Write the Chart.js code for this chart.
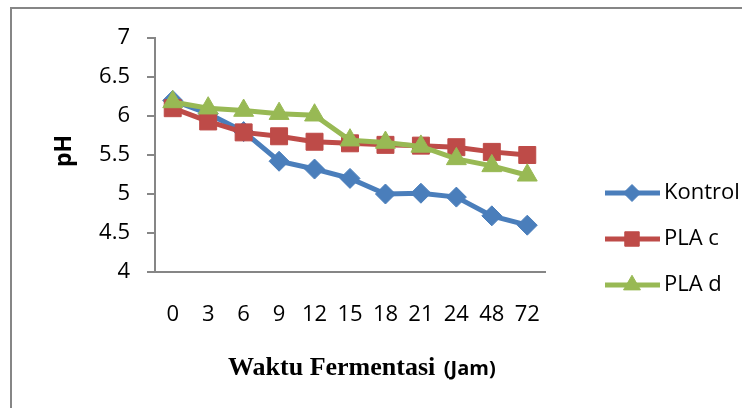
<!DOCTYPE html>
<html>
<head>
<meta charset="utf-8">
<script src="https://cdn.jsdelivr.net/npm/chart.js@4"></script>
<style>
  html, body { margin: 0; padding: 0; background: #fff; }
  #wrap { width: 742px; height: 408px; }
</style>
</head>
<body>
<div id="wrap"><canvas id="phChart" width="742" height="408"></canvas></div>
<script>
const hours = ['0', '3', '6', '9', '12', '15', '18', '21', '24', '48', '72'];
const kontrol = [6.2, 6.03, 5.8, 5.42, 5.32, 5.2, 5.0, 5.01, 4.96, 4.72, 4.6];
const plaC = [6.1, 5.93, 5.79, 5.74, 5.67, 5.65, 5.63, 5.62, 5.6, 5.54, 5.5];
const plaD = [6.18, 6.1, 6.07, 6.03, 6.01, 5.69, 5.66, 5.61, 5.45, 5.36, 5.24];
const seriesNames = ['Kontrol', 'PLA c', 'PLA d'];

const axisGray = '#868686';
const tickFont = { family: 'Open Sans', size: 22 };

// frame, axis titles and the legend on the right
const decorPlugin = {
  id: 'decor',
  afterDraw(chart) {
    const ctx = chart.ctx;
    ctx.save();
    ctx.strokeStyle = axisGray;
    ctx.lineWidth = 2;
    ctx.beginPath();
    ctx.moveTo(11, 410);
    ctx.lineTo(11, 8);
    ctx.lineTo(742, 8);
    ctx.stroke();

    // y title
    ctx.fillStyle = '#000';
    ctx.font = 'bold 23px "Open Sans"';
    ctx.textAlign = 'center';
    ctx.textBaseline = 'middle';
    ctx.translate(64, 151);
    ctx.rotate(-Math.PI / 2);
    ctx.fillText('pH', 0, 0);
    ctx.setTransform(1, 0, 0, 1, 0, 0);

    // x title
    ctx.textAlign = 'left';
    ctx.textBaseline = 'alphabetic';
    ctx.font = 'bold 26px "Liberation Serif"';
    const t1 = 'Waktu Fermentasi ';
    ctx.fillText(t1, 228, 375);
    const w1 = ctx.measureText(t1).width;
    ctx.font = 'bold 20px "Open Sans"';
    ctx.fillText('(Jam)', 228 + w1 + 2, 375);

    // legend
    const rows = [193, 239, 285];
    chart.data.datasets.forEach((ds, i) => {
      const y = rows[i];
      ctx.strokeStyle = ds.borderColor;
      ctx.lineWidth = ds.borderWidth;
      ctx.beginPath();
      ctx.moveTo(605, y);
      ctx.lineTo(660, y);
      ctx.stroke();
      ctx.fillStyle = ds.pointBackgroundColor;
      ctx.strokeStyle = ds.pointBorderColor;
      ctx.lineWidth = 1;
      Chart.helpers.drawPoint(ctx, {
        pointStyle: ds.pointStyle,
        radius: ds.pointRadius * 0.85,
        rotation: 0,
        borderWidth: 1
      }, 632, y);
      ctx.fillStyle = '#000';
      ctx.font = '22px "Open Sans"';
      ctx.textAlign = 'left';
      ctx.textBaseline = 'middle';
      ctx.fillText(ds.label, 664, y);
    });
    ctx.restore();
  }
};

function makeSet(label, data, color, style, radius, order) {
  return {
    label,
    data,
    borderColor: color,
    backgroundColor: color,
    pointBackgroundColor: color,
    pointBorderColor: color,
    borderWidth: 5,
    pointStyle: style,
    pointRadius: radius,
    pointBorderWidth: 1,
    tension: 0,
    clip: false,
    order
  };
}

new Chart(document.getElementById('phChart'), {
  type: 'line',
  data: {
    labels: hours,
    datasets: [
      makeSet(seriesNames[0], kontrol, '#4A7EBB', 'rectRot', 10, 3),
      makeSet(seriesNames[1], plaC, '#BE4B48', 'rect', 12, 2),
      makeSet(seriesNames[2], plaD, '#98B954', 'triangle', 11.5, 1)
    ]
  },
  options: {
    responsive: false,
    animation: false,
    events: [],
    layout: { padding: { left: 0, top: 38, right: 197, bottom: 0 } },
    plugins: {
      legend: { display: false },
      tooltip: { enabled: false }
    },
    scales: {
      x: {
        offset: true,
        grid: { display: true, drawOnChartArea: false, drawTicks: false },
        border: { color: axisGray, width: 2 },
        ticks: { color: '#000', font: tickFont, padding: 30, maxRotation: 0, autoSkip: false },
        afterFit(scale) { scale.height = 136; }
      },
      y: {
        min: 4,
        max: 7,
        grid: { drawOnChartArea: false, drawTicks: true, tickLength: 8, color: axisGray, lineWidth: 2 },
        border: { color: axisGray, width: 2 },
        ticks: {
          stepSize: 0.5,
          color: '#000',
          font: tickFont,
          padding: 17,
          callback: (v) => String(Number(v))
        },
        afterFit(scale) { scale.width = 155; }
      }
    }
  },
  plugins: [decorPlugin]
});
</script>
</body>
</html>
